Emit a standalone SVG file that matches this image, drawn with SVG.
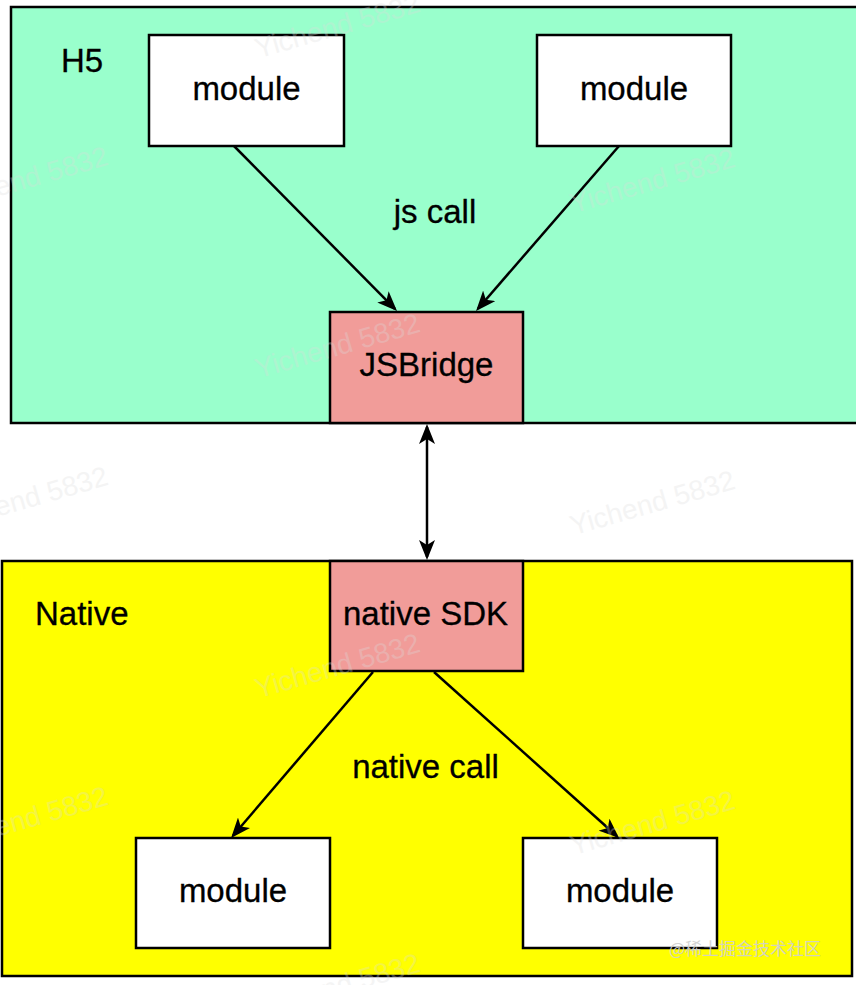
<svg xmlns="http://www.w3.org/2000/svg" width="856" height="985" viewBox="0 0 856 985">
  <style>
    .box { stroke: #000; stroke-width: 2.5; }
    .lbl { font-family: "Liberation Sans", Arial, Helvetica, sans-serif; font-size: 33px; fill: #000; stroke: #000; stroke-width: 0.3; }
    .mid { text-anchor: middle; }
    .edge { fill: none; stroke: #000; stroke-width: 2.5; }
    .wm { font-family: "Liberation Sans", Arial, sans-serif; font-size: 28px; fill: #dcdcdc; opacity: 0.3; text-anchor: middle; }
  </style>
  <defs>
    <marker id="arr" viewBox="0 0 20 16" refX="17" refY="8" markerWidth="20" markerHeight="16" markerUnits="userSpaceOnUse" orient="auto-start-reverse">
      <path d="M20 8 L0 0 L5 8 L0 16 Z" fill="#000"/>
    </marker>
  </defs>
  <rect width="856" height="985" fill="#fff"/>

  <g id="h5">
    <rect class="box" x="11" y="7" width="850" height="416" fill="#99FFCC"/>
    <text class="lbl" x="61" y="72">H5</text>
  </g>
  <g id="native">
    <rect class="box" x="2" y="561" width="850" height="415" fill="#FFFF00"/>
    <text class="lbl" x="35" y="625">Native</text>
  </g>

  <g id="h5-module-left">
    <rect class="box" x="149" y="35" width="195" height="111" fill="#fff"/>
    <text class="lbl mid" x="246.5" y="100">module</text>
  </g>
  <g id="h5-module-right">
    <rect class="box" x="537" y="35" width="194" height="111" fill="#fff"/>
    <text class="lbl mid" x="634" y="100">module</text>
  </g>
  <g id="jsbridge">
    <rect class="box" x="330" y="312" width="193" height="111" fill="#F19C99"/>
    <text class="lbl mid" x="426.5" y="376">JSBridge</text>
  </g>
  <g id="native-sdk">
    <rect class="box" x="330" y="561" width="193" height="110" fill="#F19C99"/>
    <text class="lbl mid" x="425.5" y="625">native SDK</text>
  </g>
  <g id="native-module-left">
    <rect class="box" x="136" y="838" width="194" height="110" fill="#fff"/>
    <text class="lbl mid" x="233" y="902">module</text>
  </g>
  <g id="native-module-right">
    <rect class="box" x="523" y="838" width="194" height="110" fill="#fff"/>
    <text class="lbl mid" x="620" y="902">module</text>
  </g>

  <g id="connectors">
    <path class="edge" d="M234 146 L394.9 308.9" marker-end="url(#arr)"/>
    <path class="edge" d="M619 146 L478 308.7" marker-end="url(#arr)"/>
    <path class="edge" d="M427 427 L427 557" marker-start="url(#arr)" marker-end="url(#arr)"/>
    <path class="edge" d="M373 672 L233 835.7" marker-end="url(#arr)"/>
    <path class="edge" d="M434 672 L616.8 836" marker-end="url(#arr)"/>
    <text class="lbl mid" x="435" y="223">js call</text>
    <text class="lbl mid" x="425.5" y="778">native call</text>
  </g>

  <g id="watermarks">
    <text class="wm" transform="translate(340 35) rotate(-16)">Yichend 5832</text>
    <text class="wm" transform="translate(28 188) rotate(-16)">Yichend 5832</text>
    <text class="wm" transform="translate(655 190) rotate(-16)">Yichend 5832</text>
    <text class="wm" transform="translate(340 355) rotate(-16)">Yichend 5832</text>
    <text class="wm" transform="translate(28 508) rotate(-16)">Yichend 5832</text>
    <text class="wm" transform="translate(655 512) rotate(-16)">Yichend 5832</text>
    <text class="wm" transform="translate(340 675) rotate(-16)">Yichend 5832</text>
    <text class="wm" transform="translate(28 828) rotate(-16)">Yichend 5832</text>
    <text class="wm" transform="translate(655 832) rotate(-16)">Yichend 5832</text>
    <text class="wm" transform="translate(340 995) rotate(-16)">Yichend 5832</text>
    <text x="669" y="955" font-family="'Noto Sans CJK SC', 'Liberation Sans', sans-serif" font-size="17" fill="#d0d0d0" opacity="0.9">@稀土掘金技术社区</text>
  </g>
</svg>
